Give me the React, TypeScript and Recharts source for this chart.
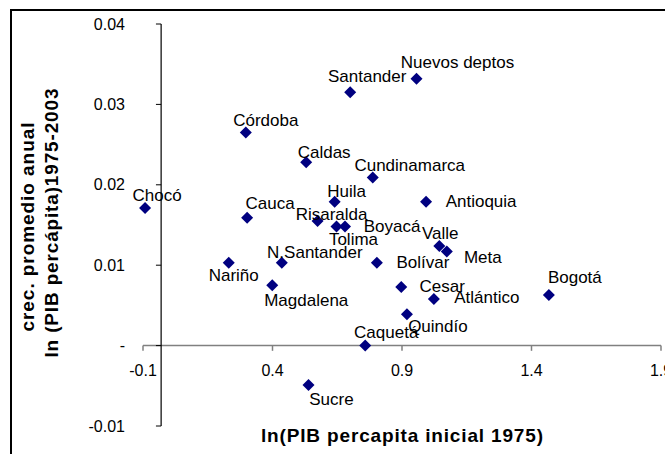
import { ScatterChart, Scatter, XAxis, YAxis, ReferenceLine } from "recharts";

// departamentos de Colombia
const departamentos = [
  "Chocó", "Córdoba", "Caldas", "Cauca", "Santander", "Nuevos deptos",
  "Cundinamarca", "Huila", "Antioquia", "Risaralda", "Tolima", "Boyacá",
  "Valle", "Meta", "N.Santander", "Nariño", "Bolívar", "Magdalena",
  "Cesar", "Atlántico", "Bogotá", "Quindío", "Caquetá", "Sucre",
];
// ln(PIB percapita inicial 1975)
const pibInicial = [
  -0.062, 0.327, 0.56, 0.332, 0.73, 0.986,
  0.817, 0.67, 1.023, 0.604, 0.677, 0.71,
  1.074, 1.103, 0.466, 0.261, 0.833, 0.429,
  0.927, 1.053, 1.497, 0.949, 0.788, 0.569,
];
// crec. promedio anual 1975-2003
const crecimiento = [
  0.0171, 0.0265, 0.0228, 0.0159, 0.0315, 0.0332,
  0.0209, 0.0179, 0.0179, 0.0155, 0.0148, 0.0148,
  0.0124, 0.0117, 0.0103, 0.0103, 0.0103, 0.0075,
  0.0073, 0.0058, 0.0063, 0.0039, 0.0, -0.0049,
];

const xTicks = [-0.07, 0.43, 0.93, 1.43, 1.93];
const xTickLabels = ["-0.1", "0.4", "0.9", "1.4", "1.9"];
const yTicks = [-0.01, 0, 0.01, 0.02, 0.03, 0.04];
const yTickLabels = ["-0.01", "-", "0.01", "0.02", "0.03", "0.04"];

// where each label sits relative to its marker (px)
const labelOffset: Record<string, [number, number]> = {
  "Chocó": [12, -13],
  "Córdoba": [20, -12],
  "Caldas": [18, -10],
  "Cauca": [23, -14],
  "Santander": [17, -16],
  "Nuevos deptos": [41, -16],
  "Cundinamarca": [37, -12],
  "Huila": [12, -10],
  "Antioquia": [55, 0],
  "Risaralda": [14, -6],
  "Tolima": [17, 13],
  "Boyacá": [47, 0],
  "Valle": [1, -12],
  "Meta": [36, 6],
  "N.Santander": [33, -10],
  "Nariño": [5, 13],
  "Bolívar": [46, 0],
  "Magdalena": [34, 15],
  "Cesar": [41, 0],
  "Atlántico": [53, -1],
  "Bogotá": [26, -17],
  "Quindío": [31, 12],
  "Caquetá": [21, -13],
  "Sucre": [23, 15],
};

const points = departamentos.map((name, i) => ({ name, x: pibInicial[i], y: crecimiento[i] }));

const NAVY = "#000080";
const FONT = "'Liberation Sans', Arial, sans-serif";

const Diamond = (props: any) => {
  const { cx, cy, payload } = props;
  const [dx, dy] = labelOffset[payload.name] ?? [0, -12];
  const r = 6;
  return (
    <g>
      <polygon
        points={`${cx},${cy - r} ${cx + r},${cy} ${cx},${cy + r} ${cx - r},${cy}`}
        fill={NAVY}
      />
      <text
        x={cx + dx}
        y={cy + dy}
        textAnchor="middle"
        dominantBaseline="central"
        fontSize={17}
        fill="#000"
      >
        {payload.name}
      </text>
    </g>
  );
};

const XTitle = (props: any) => {
  const { x, y, width } = props.viewBox;
  return (
    <text
      x={x + width / 2}
      y={y + 16}
      textAnchor="middle"
      fontSize={19}
      fontWeight="bold"
      textLength={282}
      lengthAdjust="spacing"
      fill="#000"
    >
      ln(PIB percapita inicial 1975)
    </text>
  );
};

const YTitle = (props: any) => {
  const { y, height } = props.viewBox;
  const cy = y + height / 2;
  return (
    <g fontSize={19} fontWeight="bold" fill="#000">
      <text x={34} y={cy + 2} transform={`rotate(-90 34 ${cy + 2})`} textAnchor="middle" textLength={209} lengthAdjust="spacing">
        crec. promedio anual
      </text>
      <text x={58} y={cy - 2} transform={`rotate(-90 58 ${cy - 2})`} textAnchor="middle" textLength={269} lengthAdjust="spacing">
        ln (PIB percápita)1975-2003
      </text>
    </g>
  );
};

export default function App() {
  return (
    <div
      style={{
        position: "absolute",
        left: 0,
        top: 0,
        width: 665,
        height: 454,
        overflow: "hidden",
        background: "#fff",
        fontFamily: FONT,
      }}
    >
      <div
        style={{
          position: "absolute",
          left: 10,
          top: 9,
          width: 700,
          height: 500,
          border: "2px solid #000",
        }}
      />
      <div style={{ position: "absolute", left: 0, top: 0 }}>
        <ScatterChart width={665} height={454} margin={{ top: 24, right: 4, bottom: 0, left: 0 }}>
          <XAxis
            type="number"
            dataKey="x"
            domain={[-0.07, 1.93]}
            ticks={xTicks}
            height={28}
            axisLine={false}
            tickLine={false}
            tick={false}
            label={{ content: XTitle }}
          />
          <YAxis
            type="number"
            dataKey="y"
            domain={[-0.01, 0.04]}
            ticks={yTicks}
            tickFormatter={(v) => yTickLabels[yTicks.indexOf(v)]}
            width={143}
            axisLine={false}
            tickLine={false}
            tickSize={0}
            tickMargin={18}
            tick={{ fill: "#000", fontSize: 16 }}
            label={{ content: YTitle }}
          />
          <ReferenceLine y={0} stroke="#808080" strokeWidth={1.5} ifOverflow="visible" />
          <ReferenceLine x={0} stroke="#000" strokeWidth={1.2} ifOverflow="visible" />
          {yTicks.map((t) => (
            <ReferenceLine
              key={`yt${t}`}
              segment={[{ x: -0.02, y: t }, { x: 0, y: t }]}
              stroke="#000"
              ifOverflow="visible"
            />
          ))}
          {xTicks.map((t, i) => (
            <ReferenceLine
              key={`xt${t}`}
              segment={[{ x: t, y: 0 }, { x: t, y: -0.00065 }]}
              stroke="#808080"
              strokeWidth={1.5}
              ifOverflow="visible"
              label={{ value: xTickLabels[i], position: "bottom", offset: 14, fill: "#000", fontSize: 16 }}
            />
          ))}
          <Scatter data={points} fill={NAVY} shape={Diamond} isAnimationActive={false} />
        </ScatterChart>
      </div>
    </div>
  );
}
